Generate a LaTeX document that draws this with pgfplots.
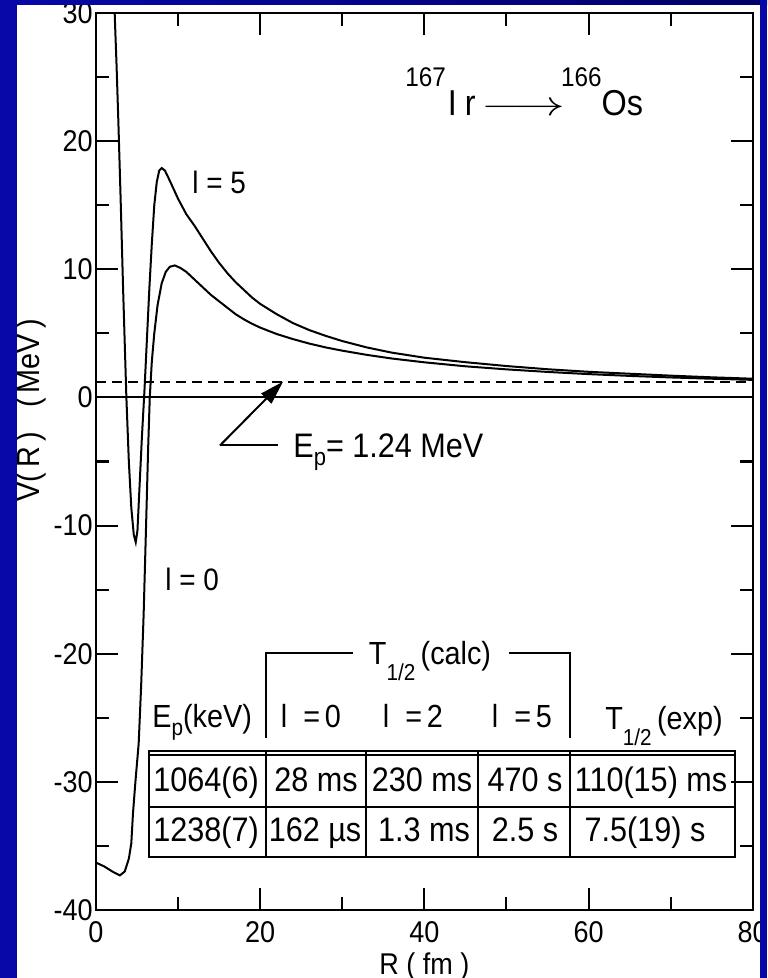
\documentclass[border=0pt]{standalone}
\usepackage{pgfplots}
\pgfplotsset{compat=1.18}
\usepackage{graphicx}
\usepackage{fontspec}
\setmainfont{Liberation Sans}[FakeStretch=0.9]
\usetikzlibrary{arrows.meta}
\definecolor{slideblue}{RGB}{8,8,168}
\definecolor{slidenavy}{RGB}{0,0,105}
\newcommand\fs[1]{\fontsize{#1}{#1}\selectfont}
\newcommand\sub[1]{\raisebox{-0.25em}{\scalebox{0.72}{#1}}}
\newcommand\subT[1]{\raisebox{-0.5em}{\scalebox{0.72}{#1}}}
\newcommand\super[1]{\raisebox{0.8em}{\scalebox{0.75}{#1}}}

\pgfplotstableread{
R V
0 -36.3
1 -36.6
2 -37.0
2.9 -37.3
3.5 -37.0
4.0 -36.0
4.3 -34.8
4.5 -32.5
4.8 -30.0
5.2 -27.0
5.5 -22.5
5.8 -17.0
6.1 -10.0
6.35 -4.0
6.55 0.0
6.8 2.8
7.1 5.0
7.5 7.2
8.0 8.9
8.5 9.8
9.0 10.2
9.6 10.3
10.3 10.1
11.0 9.8
12.0 9.2
13.0 8.6
14.0 8.0
15.0 7.5
16.0 7.0
17.0 6.5
18.0 6.1
19.0 5.75
20.0 5.45
22 4.95
24 4.55
26 4.2
28 3.9
30 3.65
33 3.32
36 3.04
40 2.74
45 2.43
50 2.19
55 1.99
60 1.82
65 1.68
70 1.56
75 1.46
80 1.37
}\lzero

\pgfplotstableread{
R V
2.1 34
2.3 29.5
2.5 26
2.72 21.6
3.0 15.5
3.3 8.5
3.7 0
4.0 -5
4.3 -8.6
4.6 -10.7
4.84 -11.3
5.05 -10.4
5.3 -7.0
5.6 -3.0
5.9 0.5
6.2 4.5
6.5 8.5
6.8 12.0
7.1 15.0
7.4 16.8
7.7 17.7
8.0 17.9
8.4 17.7
9.0 16.9
10.0 15.5
11.0 14.3
12.0 13.4
13.0 12.4
14.0 11.4
15.0 10.5
16.0 9.7
17.0 9.0
18.0 8.4
19.0 7.8
20.0 7.3
22 6.5
24 5.8
26 5.25
28 4.8
30 4.4
33 3.9
36 3.5
40 3.1
45 2.75
50 2.45
55 2.2
60 2.0
65 1.85
70 1.7
75 1.57
80 1.46
}\lfive

\begin{document}
\begin{tikzpicture}
\fill[white] (0,0) rectangle (383.5pt,489pt);
\begin{axis}[
  at={(48pt,34pt)}, anchor=south west,
  scale only axis, width=328.35pt, height=448.5pt,
  xmin=0, xmax=80, ymin=-40, ymax=30,
  xtick={0,20,40,60,80}, minor xtick={10,30,50,70},
  ytick={-40,-30,-20,-10,0,10,20,30}, minor ytick={-35,-25,-15,-5,5,15,25},
  tick align=inside,
  major tick length=11pt, minor tick length=6.5pt,
  tick style={line width=1pt, black},
  axis line style={line width=1pt},
  /pgf/number format/assume math mode=true,
  ticklabel style={font=\fs{15}},
  xticklabel style={anchor=north, inner sep=0pt, yshift=-5.5pt},
  yticklabel style={anchor=east, inner sep=0pt, xshift=-1.5pt},
  xlabel={R ( fm )},
  xlabel style={at={(axis description cs:0.5,0)}, anchor=north, inner sep=0pt, yshift=-21pt, font=\fs{15}},
  ylabel={V(\,R\,)\ \ \ (\,MeV\,)},
  ylabel style={at={(axis description cs:-0.099,0.557)}, anchor=center, inner sep=0pt, font=\fs{16}},
  clip mode=individual,
]
\addplot[black, line width=1pt] table[x=R,y=V] {\lzero};
\addplot[black, line width=1pt] table[x=R,y=V] {\lfive};
\addplot[black, line width=1pt] coordinates {(0,0) (80,0)};
\addplot[black, line width=1pt, dash pattern=on 5pt off 3pt] coordinates {(0,1.24) (80,1.24)};
\draw[line width=1pt] (axis cs:22.2,-3.75) -- (axis cs:15.1,-3.75);
\draw[line width=1pt, -{Triangle[length=12pt,width=7pt]}] (axis cs:15.1,-3.75) -- (axis cs:22.8,1.24);
\node[anchor=base west, inner sep=0pt, font=\fs{17}] at (axis cs:24.0,-4.66) {E\sub{p}= 1.24 MeV};
\node[anchor=base west, inner sep=0pt, font=\fs{15.5}] at (axis cs:11.7,15.9) {l = 5};
\node[anchor=base west, inner sep=0pt, font=\fs{15.5}] at (axis cs:8.4,-15.06) {l = 0};
\node[anchor=base east, inner sep=0pt, font=\fs{18}] at (axis cs:66.7,22.0) {\super{167}\kern1pt I\kern4pt r\kern3pt\scalebox{1.5}[1]{$\longrightarrow$}\kern-2pt\super{166}Os};
\end{axis}
\begin{scope}[x=0.5pt,y=-0.5pt,shift={(0,489pt)}]
  % table frame
  \draw[line width=1pt] (149,750.7) rectangle (735,856.7);
  \draw[line width=0.9pt] (149,755) -- (735,755);
  \draw[line width=1pt] (149,807.3) -- (735,807.3);
  \foreach \x in {265.6,366,478,570} \draw[line width=1pt] (\x,750.7) -- (\x,856.7);
  \draw[line width=1pt] (265.6,738) -- (265.6,653) -- (353.4,653);
  \draw[line width=1pt] (509,653) -- (570,653) -- (570,738);
  % header
  \node[anchor=base, inner sep=0pt, font=\fs{16}] at (430,665) {T\subT{1/2}\,(calc)};
  \node[anchor=base west, inner sep=0pt, font=\fs{16}] at (152,728) {E\sub{p}(keV)};
  \node[anchor=base, inner sep=0pt, font=\fs{16}] at (311,728) {l\hspace{0.5em}=\hspace{0.15em}0};
  \node[anchor=base, inner sep=0pt, font=\fs{16}] at (413,728) {l\hspace{0.5em}=\hspace{0.15em}2};
  \node[anchor=base, inner sep=0pt, font=\fs{16}] at (522,728) {l\hspace{0.5em}=\hspace{0.15em}5};
  \node[anchor=base, inner sep=0pt, font=\fs{16}] at (664,730) {T\subT{1/2}\,(exp)};
  % row 1
  \node[anchor=base, inner sep=0pt, font=\fs{17}] at (206,791.7) {1064(6)};
  \node[anchor=base, inner sep=0pt, font=\fs{17}] at (316,791.7) {28 ms};
  \node[anchor=base, inner sep=0pt, font=\fs{17}] at (422,791.7) {230 ms};
  \node[anchor=base, inner sep=0pt, font=\fs{17}] at (525,791.7) {470 s};
  \node[anchor=base, inner sep=0pt, font=\fs{17}] at (651,791.7) {110(15) ms};
  % row 2
  \node[anchor=base, inner sep=0pt, font=\fs{17}] at (206,841.7) {1238(7)};
  \node[anchor=base, inner sep=0pt, font=\fs{17}] at (315,841.7) {162 µs};
  \node[anchor=base, inner sep=0pt, font=\fs{17}] at (424,841.7) {1.3 ms};
  \node[anchor=base, inner sep=0pt, font=\fs{17}] at (525,841.7) {2.5 s};
  \node[anchor=base, inner sep=0pt, font=\fs{17}] at (645,841.7) {7.5(19) s};
\end{scope}
% slide frame
\shade[left color=slideblue, right color=slidenavy] (0,486.5pt) rectangle (383.5pt,489pt);
\fill[slideblue] (0,0) rectangle (8.5pt,489pt);
\fill[slideblue] (380pt,0) rectangle (383.5pt,489pt);
\pgfresetboundingbox
\path[use as bounding box] (0,0) rectangle (383.5pt,489pt);
\end{tikzpicture}
\end{document}
